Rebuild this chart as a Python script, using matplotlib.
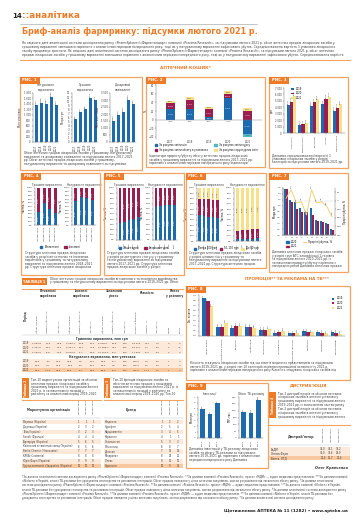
import textwrap
import matplotlib
matplotlib.use('Agg')
import matplotlib.pyplot as plt
from matplotlib.patches import Rectangle, Patch
from matplotlib.lines import Line2D
from matplotlib import font_manager
import numpy as np

plt.rcParams['font.family'] = ['DejaVu Sans']

# ---------------- дані ----------------
years5 = ['2017', '2018', '2019', '2020', '2021']
years3 = ['2019', '2020', '2021']

# Рис. 1
fig1_upak = [1344, 1428, 1392, 1656, 1344]
fig1_grn = [5.6, 7.3, 8.2, 10.8, 10.2]
fig1_usd = [1493, 1913, 2147, 3033, 2683]

# Рис. 2 (індикатори приросту, %)
fig2_price = [25.3, 23.7, 5.2, 49.6, -34.0]
fig2_volume = [12.6, 21.5, 18.5, 10.4, 19.3]
fig2_struct = [6.0, 7.4, 6.7, 6.0, 7.4]
fig2_curr = [-1.0, -2.0, -1.5, -0.6, -7.4]

# Рис. 3
fig3_cats = ['Рецептурні', 'Безрецептурні', 'Вітчизняні', 'Іноземні', 'Ринок загалом']
fig3_2019 = [4400, 1250, 4200, 4500, 3500]
fig3_2020 = [4900, 1350, 4750, 5350, 3900]
fig3_2021 = [5750, 1500, 5250, 5600, 4500]

# Рис. 4
fig4_cats = ['Лютий 2018', 'Лютий 2019', 'Лютий 2020', 'Лютий 2021']
fig4_money_dom = [36.0, 60.0, 43.0, 32.0]
fig4_money_imp = [64.0, 40.0, 57.0, 68.0]
fig4_units_dom = [65.0, 76.0, 74.0, 68.0]
fig4_units_imp = [35.0, 24.0, 26.0, 32.0]

# Рис. 5
fig5_money_rx = [33.0, 35.0, 39.0, 40.0, 44.0]
fig5_money_otc = [67.0, 65.0, 61.0, 60.0, 56.0]
fig5_units_rx = [64.0, 66.0, 67.0, 67.0, 68.0]
fig5_units_otc = [36.0, 34.0, 33.0, 33.0, 32.0]

# Рис. 6
fig6_money_low = [49.0, 47.0, 46.0, 45.0, 44.0]
fig6_money_mid = [31.0, 32.0, 33.0, 33.0, 34.0]
fig6_money_high = [20.0, 21.0, 21.0, 22.0, 22.0]
fig6_units_low = [3.0, 3.0, 4.0, 4.0, 5.0]
fig6_units_mid = [16.0, 17.0, 17.0, 18.0, 18.0]
fig6_units_high = [81.0, 80.0, 79.0, 78.0, 77.0]

# Рис. 7
fig7_cats = ['A', 'N', 'R', 'C', 'J', 'M', 'G', 'D', 'B', 'L']
fig7_2020 = [1.56, 1.20, 1.14, 0.91, 0.80, 0.91, 0.51, 0.46, 0.40, 0.19]
fig7_2021 = [1.56, 1.14, 0.88, 0.77, 0.77, 0.69, 0.48, 0.43, 0.38, 0.17]
fig7_growth = [6, 26, -5, -2, -33, 26, -5, -2, -13, -37]

# Рис. 8
fig8_cats = ['Анальгетики', 'Засоби від кашлю', 'Вітаміни', 'Пробіотики', 'Антисептики',
             'Противірусні', 'Гепатопротектори', 'Сорбенти', 'Ферменти', 'Заспокійливі']
fig8_2019 = [3.7, 0.9, 0.8, 0.9, 0.6, 0.30, 0.27, 0.45, 0.35, 0.35]
fig8_2020 = [3.4, 0.9, 1.0, 0.9, 0.6, 0.35, 0.27, 0.40, 0.33, 0.30]
fig8_2021 = [2.9, 1.3, 1.0, 0.8, 0.7, 0.50, 0.33, 0.35, 0.27, 0.23]

# Рис. 9
fig9_invest = [5.0, 4.1, 5.9]
fig9_grp = [187, 182, 281]

# Таблиця 1
t1_groups = ['Вітчизняні\nвиробники', 'Іноземні\nвиробники', 'Загальний\nрівень', 'Кількість', 'Рівень\nу рейтингу']
t1_cols = ['Обсяг продаж', 'Приріст/убуток, %', 'Частка, %'] * 3 + \
          ['Кількість брендів', 'Приріст, %', 'Частка, %', 'Місце', 'Зміна']
t1_uah = [['2 054,8', '12,6', '23,8', '6 583,7', '16,8', '76,2', '8 638,5', '15,8', '100', '18 013', '12,7', '9,0', '3', '0'],
          ['2 364,5', '15,1', '22,1', '8 324,2', '26,4', '77,9', '10 688,7', '23,7', '100', '19 217', '6,7', '8,9', '2', '+1'],
          ['2 133,0', '-9,8', '21,0', '8 019,5', '-3,7', '79,0', '10 152,5', '-5,0', '100', '17 624', '-8,3', '8,4', '2', '0']]
t1_upak = [['38,5', '-4,3', '44,6', '47,8', '2,5', '55,4', '86,3', '-0,7', '100', '120,3', '1,2', '8,1', '1', '0'],
           ['39,6', '2,9', '43,9', '50,6', '5,9', '56,1', '90,2', '4,5', '100', '126,4', '5,1', '8,3', '1', '0'],
           ['34,2', '-13,6', '41,6', '48,0', '-5,1', '58,4', '82,2', '-8,9', '100', '111,6', '-11,7', '7,9', '1', '0']]

# Таблиця 2
t2_names = ['Фармак (Україна)', 'Дарниця (Україна)', 'Teva (Ізраїль)', 'Sanofi (Франція)',
            'Артеріум (Україна)', 'Київський вітамінний завод (Україна)', 'Berlin-Chemie (Німеччина)',
            'KRKA (Словенія)', 'Юрія-Фарм (Україна)', 'Група компаній «Здоров’я» (Україна)']
t2_ranks = [[1, 1, 1], [2, 3, 2], [3, 2, 3], [4, 4, 4], [5, 6, 5],
            [6, 5, 6], [7, 7, 7], [8, 8, 8], [9, 9, 9], [12, 10, 10]]

# Таблиця 3
t3_names = ['Ксарелто', 'Нурофен', 'Кардіомагніл', 'Корвалол', 'Спазмалгон',
            'Фліксотид', 'Декасан', 'Мілдронат', 'Лінекс', 'Цераксон']
t3_ranks = [[1, 2, 2], [2, 5, 4], [3, 4, 5], [4, 1, 1], [5, 3, 3],
            [6, 8, 7], [7, 16, 14], [8, 25, 20], [9, 15, 10], [10, 9, 15]]

# Таблиця 4
t4_names = ['БаДМ', 'Оптіма-Фарм', 'Вента. ЛТД']
t4_shares = [[33.0, 34.1, 34.2], [33.0, 33.6, 29.9], [11.6, 11.7, 11.6]]

# ---------------- розмітка ----------------
W, H = 360, 530
fig = plt.figure(figsize=(W / 100, H / 100), dpi=100)

ORANGE = '#EE7B27'
ORANGE_LINE = '#F3A462'
BLUE = '#1E6AAF'
MAROON = '#9B1C4E'
YELLOW = '#F8E08A'
TEAL = '#52B8C4'
SHADE = '#FDE9DA'
SHADE2 = '#F8C8A0'
GREY = '#3A3A3A'

available = {f.name for f in font_manager.fontManager.ttflist}
NARROW = 'Liberation Sans Narrow' if 'Liberation Sans Narrow' in available else None


def add_ax(x, y, w, h):
    return fig.add_axes([x / W, 1 - (y + h) / H, w / W, h / H])


def rect(x, y, w, h, **kw):
    fig.add_artist(Rectangle((x / W, 1 - (y + h) / H), w / W, h / H,
                             transform=fig.transFigure, **kw))


def hline(x0, x1, y, color=ORANGE_LINE, lw=0.8):
    fig.add_artist(Line2D([x0 / W, x1 / W], [1 - y / H] * 2,
                          transform=fig.transFigure, color=color, lw=lw))


def txt(x, y, s, fs=2.2, **kw):
    kw.setdefault('va', 'center')
    kw.setdefault('color', GREY)
    fig.text(x / W, 1 - y / H, s, fontsize=fs, **kw)


def para(x, y, w, text, nlines, fs=2.2, lh=3.6, **kw):
    per = int(w / (fs * 1.39 * 0.57))
    lines = textwrap.wrap((text + ' ') * 8, per)[:nlines]
    for i, line in enumerate(lines):
        txt(x, y + i * lh, line, fs=fs, **kw)


def panel(x, y, w, h, label):
    rect(x, y, w, h, fill=False, ec=ORANGE_LINE, lw=0.9)
    rect(x, y, 20, 6.5, fc=ORANGE, ec='none')
    txt(x + 2.5, y + 3.3, label, fs=2.8, color='white', fontweight='bold')


def style(ax, fs=1.8):
    ax.tick_params(labelsize=fs, length=1, width=0.3, pad=0.6, colors=GREY)
    for side in ['top', 'right']:
        ax.spines[side].set_visible(False)
    for side in ['left', 'bottom']:
        ax.spines[side].set_linewidth(0.35)
        ax.spines[side].set_color('#777777')
    ax.set_facecolor('none')


def thousands(v, pos=None):
    return f'{v:,.0f}'.replace(',', ' ')


# ---------------- шапка ----------------
txt(12, 16, '14', fs=5, fontweight='bold', color='#222222')
txt(22, 16, '::аналітика', fs=6.3, fontweight='bold', color=ORANGE)
hline(20, 257, 23.5, color='#999999', lw=0.4)
if NARROW:
    txt(22, 32, 'Бриф-аналіз фармринку: підсумки лютого 2021 р.', fs=8.6,
        fontweight='bold', color=ORANGE, family=[NARROW, 'DejaVu Sans'])
else:
    txt(22, 32, 'Бриф-аналіз фармринку: підсумки лютого 2021 р.', fs=5.8,
        fontweight='bold', color=ORANGE)

intro = ('Як свідчать дані аналітичної системи дослідження ринку «PharmXplorer»/«Фармстандарт» компанії «Proxima Research», '
         'за підсумками лютого 2021 р. обсяг аптечних продаж лікарських засобів у грошовому вираженні зменшився '
         'порівняно з аналогічним періодом попереднього року, тоді як у натуральному вираженні зафіксовано убуток. '
         'Середньозважена вартість 1 упаковки лікарського засобу продовжує зростати.')
para(22, 43, 328, intro, 4, fs=2.2, lh=4.0)
hline(20, 350, 60)
txt(185, 68, 'АПТЕЧНИЙ КОШИК*', fs=3.2, color=ORANGE, ha='center', fontweight='bold')

# ---------------- Рис. 1 ----------------
panel(20, 77, 122, 93, 'РИС. 1')


def fig1_bars(x, vals, title, ylab, ymax, step, fmt):
    ax = add_ax(x, 93, 26, 49)
    pos = np.arange(len(vals))
    bars = ax.bar(pos, vals, width=0.6, color=BLUE)
    ax.set_ylim(0, ymax)
    ax.set_yticks(np.arange(0, ymax + step / 2, step))
    ax.yaxis.set_major_formatter(matplotlib.ticker.FuncFormatter(thousands) if ymax > 100 else
                                 matplotlib.ticker.FormatStrFormatter('%.0f'))
    ax.set_xticks(pos)
    ax.set_xticklabels(years5, rotation=90)
    ax.set_xlim(-0.6, len(vals) - 0.4)
    ax.bar_label(bars, fmt=fmt, rotation=90, fontsize=1.6, padding=0.5, color=GREY)
    ax.set_ylabel(ylab, fontsize=1.9, labelpad=1, color=GREY)
    ax.set_title(title, fontsize=2.1, pad=1.5, color=GREY)
    style(ax)


fig1_bars(33, fig1_upak, 'Натуральне\nвираження', 'Млн упаковок', 1800, 200, '%.0f')
fig1_bars(72, fig1_grn, 'Грошове\nвираження', 'Млрд грн', 12, 1, '%.1f')
fig1_bars(110, fig1_usd, 'Доларовий\nеквівалент', 'Млн дол. США', 3500, 500, '%.0f')
para(24, 153, 114, 'Обсяг аптечних продаж лікарських засобів у грошовому, натуральному вираженні та доларовому '
     'еквіваленті за підсумками лютого 2017–2021 рр.', 4, fs=2.1, lh=3.6)

# ---------------- Рис. 2 ----------------
panel(146, 77, 119, 90, 'РИС. 2')
ax = add_ax(156, 83, 106, 56)
pos = np.arange(len(years5))
up = np.zeros(len(pos))
down = np.zeros(len(pos))
for vals, col, tc in [(fig2_price, BLUE, 'white'), (fig2_volume, MAROON, 'white'),
                      (fig2_struct, YELLOW, GREY), (fig2_curr, TEAL, GREY)]:
    v = np.array(vals, float)
    bottom = np.where(v >= 0, up, down)
    ax.bar(pos, v, bottom=bottom, width=0.42, color=col)
    for i in range(len(v)):
        if abs(v[i]) >= 4:
            ax.text(pos[i], bottom[i] + v[i] / 2, f'{v[i]:.1f}%', fontsize=1.4, color=tc,
                    ha='center', va='center')
        else:
            ax.text(pos[i], bottom[i] + v[i] - 3, f'{v[i]:.1f}%', fontsize=1.4, color=GREY,
                    ha='center', va='center')
    up += np.where(v >= 0, v, 0)
    down += np.where(v < 0, v, 0)
ax.axhline(0, color='#777777', lw=0.3)
ax.set_ylim(-45, 85)
ax.set_yticks(np.arange(-40, 81, 20))
ax.set_xlim(-0.75, 4.75)
ax.set_xticks(pos)
ax.set_xticklabels(years5)
ax.set_ylabel('%', fontsize=1.9, labelpad=0.5)
style(ax)
ax.tick_params(axis='x', length=0)
ax.spines['bottom'].set_visible(False)
fig.legend(handles=[Patch(color=BLUE, label='За рахунок зміни цін'),
                    Patch(color=MAROON, label='За рахунок зміни обсягу в упаковках'),
                    Patch(color=TEAL, label='За рахунок зміни курсу'),
                    Patch(color=YELLOW, label='За рахунок структурних змін')],
           loc='upper center', bbox_to_anchor=(206 / W, 1 - 143 / H), ncol=2, fontsize=1.8, frameon=False,
           handlelength=1.0, handleheight=0.8, columnspacing=2.5, labelspacing=0.3,
           borderaxespad=0, borderpad=0.1)
para(149, 156.5, 113, 'Індикатори приросту/убутку обсягу аптечних продаж лікарських засобів у грошовому вираженні '
     'за підсумками лютого 2017–2021 рр. порівняно з аналогічним періодом попереднього року', 3, fs=2.1, lh=3.3)

# ---------------- Рис. 3 ----------------
panel(269, 77, 79, 91, 'РИС. 3')
ax = add_ax(284, 88, 61, 45)
pos = np.arange(len(fig3_cats))
bw = 0.27
for off, vals, col, lab in [(-bw, fig3_2019, BLUE, '2019'), (0, fig3_2020, MAROON, '2020'),
                            (bw, fig3_2021, YELLOW, '2021')]:
    b = ax.bar(pos + off, vals, bw, color=col, label=lab)
    ax.bar_label(b, fmt='%.0f', rotation=90, fontsize=1.4, padding=0.4, color=GREY)
ax.set_ylim(0, 7000)
ax.set_yticks(np.arange(0, 7001, 1000))
ax.yaxis.set_major_formatter(matplotlib.ticker.FuncFormatter(thousands))
ax.set_xticks(pos)
ax.set_xticklabels(fig3_cats, rotation=90, fontsize=1.5)
ax.set_ylabel('Грн', fontsize=1.9, labelpad=0.5)
ax.legend(loc='upper left', bbox_to_anchor=(0.08, 1.08), fontsize=1.8, frameon=False,
          handlelength=1.0, handleheight=0.8, labelspacing=0.3)
style(ax)
ax.tick_params(axis='x', labelsize=1.5)
para(272, 155.5, 74, 'Динаміка середньозваженої вартості 1 упаковки лікарських засобів у розрізі категорій '
     'за підсумками лютого 2019–2021 рр. порівняно з аналогічним періодом попереднього року', 3, fs=2.1, lh=3.4)


# ---------------- Рис. 4–6 ----------------
def stacked100(x, y, w, h, cats, parts, colors, title):
    ax = add_ax(x, y, w, h)
    pos = np.arange(len(cats))
    bottom = np.zeros(len(cats))
    for vals, col in zip(parts, colors):
        v = np.array(vals, float)
        ax.bar(pos, v, bottom=bottom, width=0.55, color=col)
        for i in range(len(v)):
            if v[i] >= 10:
                ax.text(pos[i], bottom[i] + v[i] / 2, f'{v[i]:.1f}%', rotation=90, fontsize=1.3,
                        color='white' if col != YELLOW else GREY, ha='center', va='center')
        bottom += v
    ax.set_ylim(0, 100)
    ax.set_yticks(range(0, 101, 10))
    ax.set_yticklabels([f'{t}%' for t in range(0, 101, 10)])
    ax.set_xlim(-0.6, len(cats) - 0.4)
    ax.set_xticks(pos)
    ax.set_xticklabels(cats, rotation=90)
    ax.set_title(title, fontsize=2.0, pad=1.5, color=GREY)
    ax.set_ylabel('Частка, %', fontsize=1.8, labelpad=0.6)
    style(ax, fs=1.6)
    return ax


panel(21, 173, 79, 102, 'РИС. 4')
stacked100(35, 188, 24, 37, fig4_cats, [fig4_money_dom, fig4_money_imp], [BLUE, MAROON], 'Грошове вираження')
stacked100(72, 188, 24, 37, fig4_cats, [fig4_units_dom, fig4_units_imp], [BLUE, MAROON], 'Натуральне вираження')
fig.legend(handles=[Patch(color=BLUE, label='Вітчизняні'), Patch(color=MAROON, label='Іноземні')],
           loc='center', bbox_to_anchor=(60 / W, 1 - 247 / H), ncol=2, fontsize=1.9, frameon=False,
           handlelength=1.0, handleheight=0.8)
para(25, 253, 72, 'Структура аптечних продаж лікарських засобів у розрізі вітчизняних та іноземних виробників '
     'у грошовому та натуральному вираженні за підсумками лютого 2018–2021 рр.', 5, fs=2.1, lh=3.6)

panel(104, 173, 80, 102, 'РИС. 5')
stacked100(117, 188, 24, 52, years5, [fig5_money_rx, fig5_money_otc], [BLUE, MAROON], 'Грошове вираження')
stacked100(153, 188, 24, 52, years5, [fig5_units_rx, fig5_units_otc], [BLUE, MAROON], 'Натуральне вираження')
fig.legend(handles=[Patch(color=BLUE, label='Рецептурні'), Patch(color=MAROON, label='Безрецептурні')],
           loc='center', bbox_to_anchor=(144 / W, 1 - 248 / H), ncol=2, fontsize=1.9, frameon=False,
           handlelength=1.0, handleheight=0.8)
para(107, 253, 74, 'Структура аптечних продаж лікарських засобів у розрізі рецептурного статусу у грошовому '
     'та натуральному вираженні за підсумками лютого 2017–2021 рр.', 5, fs=2.1, lh=3.6)

panel(186, 173, 80, 95, 'РИС. 6')
stacked100(197, 188, 23, 53, years5, [fig6_money_low, fig6_money_mid, fig6_money_high],
           [BLUE, MAROON, YELLOW], 'Грошове вираження')
stacked100(234, 188, 27, 53, years5, [fig6_units_low, fig6_units_mid, fig6_units_high],
           [BLUE, MAROON, YELLOW], 'Натуральне вираження')
fig.legend(handles=[Patch(color=BLUE, label='Понад 100 грн'), Patch(color=MAROON, label='50–100 грн'),
                    Patch(color=YELLOW, label='До 50 грн')],
           loc='center', bbox_to_anchor=(226 / W, 1 - 248.5 / H), ncol=3, fontsize=1.8, frameon=False,
           handlelength=1.0, handleheight=0.8, columnspacing=1.0)
para(189, 253, 74, 'Структура аптечних продаж лікарських засобів у розрізі цінових ніш у грошовому '
     'та натуральному вираженні за підсумками лютого 2017–2021 рр.', 4, fs=2.1, lh=3.6)

# ---------------- Рис. 7 ----------------
panel(269, 173, 79, 99, 'РИС. 7')
ax = add_ax(283, 188, 52, 47)
pos = np.arange(len(fig7_cats))
ax.bar(pos - 0.2, fig7_2020, 0.4, color=BLUE, label='2020')
ax.bar(pos + 0.2, fig7_2021, 0.4, color=MAROON, label='2021')
ax.set_ylim(0, 1.6)
ax.set_yticks(np.arange(0, 1.61, 0.2))
ax.yaxis.set_major_formatter(matplotlib.ticker.FormatStrFormatter('%.1f'))
ax.set_xticks(pos)
ax.set_xticklabels(fig7_cats)
ax.set_xlim(-0.6, len(pos) - 0.4)
ax.set_ylabel('Млрд грн', fontsize=1.8, labelpad=0.5)
style(ax, fs=1.6)
ax2 = ax.twinx()
ax2.plot(pos, fig7_growth, color='#F1D07A', lw=0.7, label='Приріст/убуток, %')
ax2.axhline(0, color='#888888', lw=0.3, ls=':')
for i, g in enumerate(fig7_growth):
    ax2.text(pos[i], g + 4, f'{g}%', fontsize=1.3, color=GREY, ha='center', rotation=90)
ax2.set_ylim(-80, 30)
ax2.set_yticks(np.arange(-80, 31, 20))
ax2.set_ylabel('Приріст/убуток, %', fontsize=1.8, labelpad=0.5)
ax2.tick_params(labelsize=1.6, length=1, width=0.3, pad=0.6, colors=GREY)
for s in ax2.spines.values():
    s.set_linewidth(0.35)
    s.set_color('#777777')
ax2.spines['top'].set_visible(False)
fig.legend(handles=[Patch(color=BLUE, label='2020'), Patch(color=MAROON, label='2021'),
                    Line2D([0], [0], color='#F1D07A', lw=0.7, label='Приріст/убуток, %')],
           loc='center', bbox_to_anchor=(309 / W, 1 - 244 / H), ncol=2, fontsize=1.8, frameon=False,
           handlelength=1.2, handleheight=0.8, labelspacing=0.3)
para(272, 252, 74, 'Динаміка аптечних продаж лікарських засобів у розрізі груп АТС-класифікації 1-го рівня '
     'за підсумками лютого 2020–2021 рр. із зазначенням приросту/убутку порівняно з попереднім роком', 5, fs=2.1, lh=3.6)

# ---------------- Таблиця 1 ----------------
rect(22, 277.5, 25, 7.5, fc=ORANGE, ec='none')
txt(34.5, 281.3, 'ТАБЛИЦЯ 1', fs=2.4, color='white', fontweight='bold', ha='center')
para(50, 279, 132, 'Обсяг аптечних продаж лікарських засобів вітчизняного та іноземного виробництва '
     'у грошовому та натуральному вираженні за підсумками лютого 2019–2021 рр.', 2, fs=2.1, lh=3.5)
hline(22, 183, 288.5)

col_x = np.linspace(37, 180, len(t1_cols))
spans = [(0, 2), (3, 5), (6, 8), (9, 11), (12, 13)]
for g, (a, b) in zip(t1_groups, spans):
    txt((col_x[a] + col_x[b]) / 2, 293.5, g, fs=2.0, ha='center', fontweight='bold', linespacing=1.0)
txt(26, 316, 'Період', fs=1.9, rotation=90, ha='center', fontweight='bold')
for cx, c in zip(col_x, t1_cols):
    txt(cx, 333, c, fs=1.7, rotation=90, ha='center', va='bottom')
hline(22, 183, 335, color='#BBBBBB', lw=0.3)

txt(102, 339, 'Гривневе вираження, млн грн', fs=2.2, ha='center', fontweight='bold')
row_y = [343.5, 347.8, 352.1]
for yy, yr, row in zip(row_y, years3, t1_uah):
    rect(22, yy - 2.1, 161, 4.2, fc=SHADE, ec='none')
    txt(26, yy, yr, fs=1.8, ha='center')
    for cx, v in zip(col_x, row):
        txt(cx, yy, v, fs=1.7, ha='center')
txt(102, 357, 'Натуральне вираження, млн упаковок', fs=2.2, ha='center', fontweight='bold')
row_y = [361.5, 365.8, 370.1]
for k, (yy, yr, row) in enumerate(zip(row_y, years3, t1_upak)):
    rect(22, yy - 2.1, 161, 4.2, fc=SHADE2 if k == 2 else SHADE, ec='none')
    txt(26, yy, yr, fs=1.8, ha='center')
    for cx, v in zip(col_x, row):
        txt(cx, yy, v, fs=1.7, ha='center')


# ---------------- Таблиці 2 і 3 ----------------
def rank_table(x0, x1, tab, desc, head, names, ranks, ycols):
    rect(x0, 378, 6.5, 20, fc=ORANGE, ec='none')
    txt(x0 + 3.3, 388, tab, fs=2.1, color='white', rotation=90, ha='center', fontweight='bold')
    para(x0 + 9, 380, x1 - x0 - 10, desc, 5, fs=2.1, lh=3.6)
    hline(x0, x1, 399.5)
    txt((x0 + ycols[0]) / 2 - 2, 410, head, fs=2.2, ha='center', fontweight='bold')
    for cx, yr in zip(ycols, years3):
        txt(cx, 414, 'Лютий ' + yr, fs=1.6, rotation=90, ha='center', va='bottom')
    hline(x0, x1, 417.5, color='#BBBBBB', lw=0.3)
    for i, (n, r) in enumerate(zip(names, ranks)):
        yy = 422 + i * 4.9
        if i == len(names) - 1:
            rect(x0, yy - 2.3, x1 - x0, 4.6, fc=SHADE2, ec='none')
        elif i % 2 == 0:
            rect(x0, yy - 2.3, x1 - x0, 4.6, fc=SHADE, ec='none')
        txt(x0 + 1, yy, n, fs=1.8)
        for cx, v in zip(ycols, r):
            txt(cx, yy, str(v), fs=1.8, ha='center')


rank_table(22, 101, 'Таблиця 2',
           'Топ-10 маркетуючих організацій за обсягом аптечних продаж лікарських засобів у грошовому вираженні '
           'за підсумками лютого 2021 р. із зазначенням їх позицій у рейтингу за аналогічний період 2019–2020 рр.',
           'Маркетуюча організація', t2_names, t2_ranks, [79, 86, 93])
rank_table(104, 183, 'Таблиця 3',
           'Топ-10 брендів лікарських засобів за обсягом аптечних продаж у грошовому вираженні '
           'за підсумками лютого 2021 р. із зазначенням їх позицій у рейтингу за аналогічний період 2019–2020 рр.',
           'Бренд', t3_names, t3_ranks, [162, 170, 178])

# ---------------- Рис. 8 ----------------
txt(287, 278.5, 'ПРОМОЦІЯ** ТА РЕКЛАМА НА ТБ***', fs=3.0, color=ORANGE, ha='center', fontweight='bold')
panel(186, 286, 164, 94, 'РИС. 8')
ax = add_ax(199, 295, 146, 41)
pos = np.arange(len(fig8_cats))
for off, vals, col, lab in [(-0.27, fig8_2019, BLUE, '2019'), (0, fig8_2020, MAROON, '2020'),
                            (0.27, fig8_2021, YELLOW, '2021')]:
    b = ax.bar(pos + off, vals, 0.27, color=col, label=lab)
    ax.bar_label(b, fmt='%.2f', rotation=90, fontsize=1.3, padding=0.4, color=GREY)
ax.set_ylim(0, 4.0)
ax.set_yticks(np.arange(0, 4.01, 0.5))
ax.yaxis.set_major_formatter(matplotlib.ticker.FormatStrFormatter('%.1f'))
ax.set_xlim(-0.6, len(pos) - 0.4)
ax.set_xticks(pos)
ax.set_xticklabels(fig8_cats, rotation=90)
ax.set_ylabel('Тис. візитів', fontsize=1.8, labelpad=0.5)
ax.legend(loc='upper right', bbox_to_anchor=(1.0, 1.02), fontsize=1.8, frameon=False,
          handlelength=1.0, handleheight=0.8, labelspacing=0.3)
style(ax, fs=1.7)
para(190, 363, 156, 'Кількість згадувань лікарських засобів під час візитів медичних представників '
     'за підсумками лютого 2019–2021 рр. у розрізі топ-10 категорій за рівнем промоційної активності у 2021 р. '
     'порівняно з аналогічним періодом попереднього року', 3, fs=2.1, lh=3.6)

# ---------------- Рис. 9 ----------------
panel(186, 383, 82, 85, 'РИС. 9')
for x, vals, title, ylab, ymax, step, fmt in [
        (198, fig9_invest, 'Інвестиції', 'Млн грн', 7, 1, '%.1f'),
        (239, fig9_grp, 'Обсяг ТБ-рекламу', 'TRP, тис.', 300, 50, '%.0f')]:
    ax = add_ax(x, 397, 24, 41)
    pos = np.arange(len(vals))
    b = ax.bar(pos, vals, 0.55, color=BLUE)
    ax.bar_label(b, fmt=fmt, rotation=90, fontsize=1.5, padding=0.5, color=GREY)
    ax.set_ylim(0, ymax)
    ax.set_yticks(np.arange(0, ymax + step / 2, step))
    ax.set_xlim(-0.6, len(vals) - 0.4)
    ax.set_xticks(pos)
    ax.set_xticklabels(years3, rotation=90)
    ax.set_title(title, fontsize=2.0, pad=1.5, color=GREY)
    ax.set_ylabel(ylab, fontsize=1.8, labelpad=0.5)
    style(ax, fs=1.7)
para(189, 449, 76, 'Динаміка інвестицій у ТБ-рекламу лікарських засобів та обсягу ТБ-реклами '
     'за підсумками лютого 2019–2021 рр. порівняно з аналогічним періодом попереднього року', 4, fs=2.1, lh=3.6)

# ---------------- Дистриб'юція ----------------
txt(309, 385.5, 'ДИСТРИБ’ЮЦІЯ', fs=3.0, color=ORANGE, ha='center', fontweight='bold')
rect(269, 392, 6.5, 26, fc=ORANGE, ec='none')
txt(272.3, 405, 'Таблиця 4', fs=2.1, color='white', rotation=90, ha='center', fontweight='bold')
para(278, 393.5, 70, 'Топ-3 дистриб’юторів за обсягом поставок лікарських засобів в аптечні установи '
     'у грошовому вираженні за підсумками лютого 2019–2021 рр. із зазначенням частки ринку', 7, fs=2.1, lh=3.9)
hline(269, 350, 425)
txt(301, 437, 'Дистриб’ютор', fs=2.3, ha='center', fontweight='bold')
t4_x = [323, 331, 339]
for cx, yr in zip(t4_x, years3):
    txt(cx, 442, 'Лютий ' + yr, fs=1.6, rotation=90, ha='center', va='bottom')
hline(269, 350, 445, color='#BBBBBB', lw=0.3)
for i, (n, r) in enumerate(zip(t4_names, t4_shares)):
    yy = 449 + i * 4.5
    rect(269, yy - 2.2, 81, 4.4, fc=SHADE2 if i == 2 else SHADE, ec='none')
    txt(271, yy, n, fs=1.9)
    for cx, v in zip(t4_x, r):
        txt(cx, yy, f'{v:.1f}'.replace('.', ','), fs=1.8, ha='center')
txt(348, 468, 'Олег Кравченко', fs=2.5, ha='right', fontstyle='italic', fontweight='bold')

# ---------------- виноски ----------------
notes = ('*За даними аналітичної системи дослідження ринку «PharmXplorer»/«Фармстандарт» компанії «Proxima Research». '
         '**За даними компанії «Proxima Research», проєкт «МДМ» — аудит медичних представників. '
         '***За даними компанії «Nielsen» в Україні, аналіз ТБ-реклами без урахування спонсорства та рекламних інтеграцій. '
         'Обсяг продаж наведено у цінах аптечних закупівель, частки розраховано від загального обсягу ринку.')
para(22, 477, 328, notes, 6, fs=1.9, lh=4.2)
txt(348, 511, 'Щотижневик АПТЕКА № 11 (1282) • www.apteka.ua', fs=3.0, ha='right', fontweight='bold',
    color='#222222')

fig.savefig('out.png', dpi=100)
